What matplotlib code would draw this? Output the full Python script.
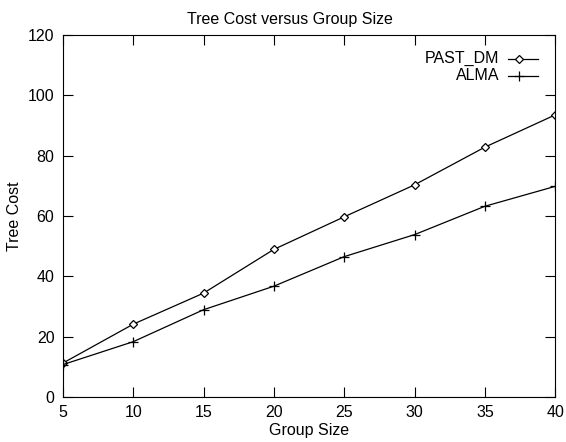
import matplotlib
matplotlib.use("Agg")
import matplotlib.pyplot as plt
from matplotlib.lines import Line2D

# group sizes and measured tree costs
group_size = [5, 10, 15, 20, 25, 30, 35, 40]
past_dm = [11.2, 24.1, 34.4, 48.9, 59.7, 70.3, 82.8, 93.5]
alma = [10.7, 18.3, 28.9, 36.7, 46.5, 53.8, 63.2, 69.8]
series_names = ["PAST_DM", "ALMA"]

plt.rcParams['font.family'] = ['Liberation Sans', 'DejaVu Sans']
plt.rcParams['font.size'] = 11.5

fig = plt.figure(figsize=(5.66, 4.42), dpi=100)
ax = fig.add_axes([0.111, 0.102, 0.870, 0.819])

styles = [dict(marker="D", markersize=4.5, markerfacecolor="white", markeredgewidth=0.9),
          dict(marker="+", markersize=7, markeredgewidth=0.9)]

for vals, st in zip([past_dm, alma], styles):
    ax.plot(group_size, vals, color="black", lw=0.9, **st)

# dotted zero axis
ax.axhline(0, color="black", lw=0.8, ls=(0, (1, 1)))

ax.set_xlim(5, 40)
ax.set_ylim(0, 120)
ax.set_xticks(range(5, 41, 5))
ax.set_yticks(range(0, 121, 20))
ax.tick_params(direction="in", top=True, right=True, length=7, width=0.8, pad=6)
for s in ax.spines.values():
    s.set_linewidth(0.8)

fig.text(0.513, 0.955, "Tree Cost versus Group Size", ha="center", va="center")
ax.set_xlabel("Group Size", labelpad=2)
ax.set_ylabel("Tree Cost", labelpad=4)

# key: right-aligned labels with the sample line after them
for i, (name, st) in enumerate(zip(series_names, styles)):
    y = 0.934 - i * 0.047
    ax.text(0.886, y, name, transform=ax.transAxes, ha="right", va="center")
    ax.add_line(Line2D([0.904, 0.965], [y, y], transform=ax.transAxes,
                       color="black", lw=0.9))
    ax.add_line(Line2D([0.927], [y], transform=ax.transAxes, color="black",
                       lw=0, **st))

fig.savefig("out.png", dpi=100)
